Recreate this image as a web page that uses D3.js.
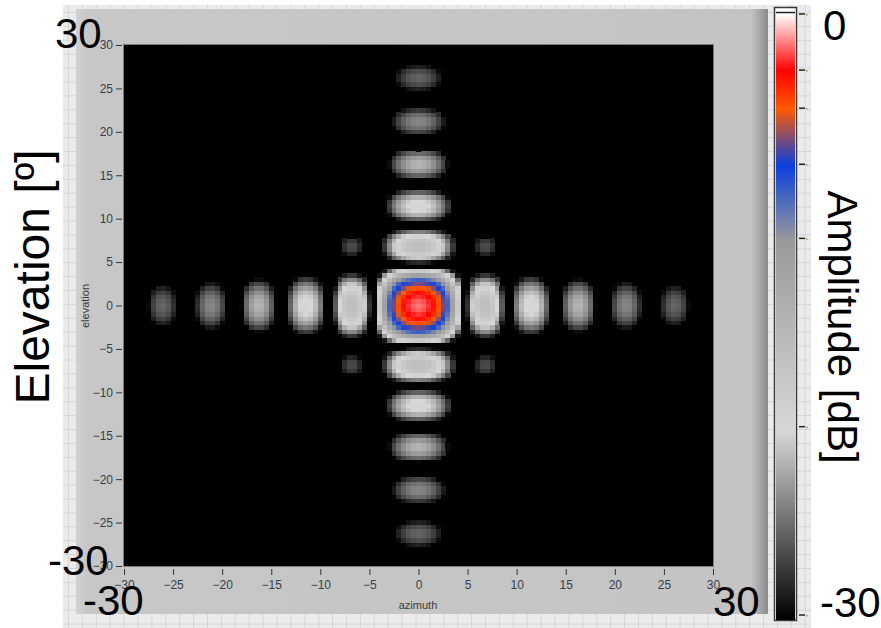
<!DOCTYPE html>
<html>
<head>
<meta charset="utf-8">
<script src="https://cdn.jsdelivr.net/npm/d3@7"></script>
<style>
  html, body { margin: 0; padding: 0; background: #fff; }
  svg { display: block; font-family: "Liberation Sans", Arial, sans-serif; }
</style>
</head>
<body>
<div class="canvas"></div>
<script>
// ---- data ----
const azimuthTicks = [-30, -25, -20, -15, -10, -5, 0, 5, 10, 15, 20, 25, 30];
const elevationTicks = [-30, -25, -20, -15, -10, -5, 0, 5, 10, 15, 20, 25, 30];

// nulls along each principal cut (deg) and the level of the lobe between each pair (dB, rel. to peak)
const azNulls = [-28.6, -23.6, -18.7, -13.9, -9.0, -4.6, 4.6, 9.0, 13.9, 18.7, 23.6, 28.6];
const azLobeDb = [-24.0, -22.5, -20.5, -18.5, -15.0, 0, -15.0, -18.5, -20.5, -22.5, -24.0];
const elNulls = [-28.8, -23.7, -18.7, -13.85, -9.15, -4.6, 4.6, 9.15, 13.85, 18.7, 23.7, 28.8];
const elLobeDb = [-24.0, -22.5, -20.5, -18.5, -15.0, 0, -15.0, -18.5, -20.5, -22.5, -24.0];
const peakDb = -1.5;
// the four small off-axis lobes (between the first nulls of both cuts)
const diagonalLobeDb = -26.5;

// main lobe fall-off vs offset from boresight (deg -> dB)
const mainLobeDeg = [0, 0.5, 1, 1.5, 2, 2.5, 3, 3.5, 4, 4.3, 4.6];
const mainLobeDb = [0, -0.2, -0.7, -1.6, -2.9, -4.7, -7.3, -10.9, -16.7, -23.3, -60];
// side lobe shape vs fraction of the null-to-null interval
const sideLobeT = [0, 0.05, 0.1, 0.2, 0.3, 0.4, 0.5];
const sideLobeDb = [-60, -16, -10.2, -4.6, -1.8, -0.4, 0];

// colour ramp of the legend (dB -> colour)
const rampDb = [0, -2.8, -4.7, -7.5, -11.2, -20.6, -30];
const rampColors = ["#ffffff", "#ff0000", "#ff5a00", "#0a40e0", "#999999", "#d8d8d8", "#000000"];

const gridStep = 0.5;

// ---- drawing ----
const W = 881, H = 628;
const svg = d3.select(".canvas").append("svg")
    .attr("width", W)
    .attr("height", H);

const defs = svg.append("defs");

// panel backdrop with light grid
svg.append("rect")
    .attr("x", 63).attr("y", 5).attr("width", 748).attr("height", 623)
    .attr("fill", "#ebebeb");
const bg = svg.append("g").attr("stroke", "#d6d6d6").attr("stroke-width", 1);
d3.range(68.5, 811, 13.9).forEach(v => {
    bg.append("line").attr("x1", v).attr("x2", v).attr("y1", 5).attr("y2", 628);
});
d3.range(12.5, 628, 13.9).forEach(v => {
    bg.append("line").attr("x1", 63).attr("x2", 811).attr("y1", v).attr("y2", v);
});

const panelGrad = defs.append("linearGradient").attr("id", "panelGrad");
panelGrad.append("stop").attr("offset", 0).attr("stop-color", "#d2d2d2");
panelGrad.append("stop").attr("offset", 0.015).attr("stop-color", "#c7c7c7");
panelGrad.append("stop").attr("offset", 0.975).attr("stop-color", "#c4c4c4");
panelGrad.append("stop").attr("offset", 1).attr("stop-color", "#8c8c8c");

svg.append("rect")
    .attr("x", 76).attr("y", 9).attr("width", 692).attr("height", 605)
    .attr("fill", "url(#panelGrad)");

// plot scales
const x = d3.scaleLinear().domain([-30, 30]).range([124, 713]);
const y = d3.scaleLinear().domain([-30, 30]).range([566, 45]);

svg.append("rect")
    .attr("x", x(-30)).attr("y", y(30))
    .attr("width", x(30) - x(-30)).attr("height", y(-30) - y(30))
    .attr("fill", "#000");

defs.append("clipPath").attr("id", "plotClip")
  .append("rect")
    .attr("x", x(-30)).attr("y", y(30))
    .attr("width", x(30) - x(-30)).attr("height", y(-30) - y(30));

const color = d3.scaleLinear().domain(rampDb).range(rampColors).clamp(true);
const mainShape = d3.scaleLinear().domain(mainLobeDeg).range(mainLobeDb).clamp(true);
const sideShape = d3.scaleLinear().domain(sideLobeT).range(sideLobeDb).clamp(true);

function lobeIndex(v, nulls) {
    const i = d3.bisectRight(nulls, v) - 1;
    return (i < 0 || i >= nulls.length - 1) ? -1 : i;
}
function lobeShape(v, nulls, i, lobes) {
    if (lobes[i] === 0) return mainShape(Math.abs(v));
    const t = (v - nulls[i]) / (nulls[i + 1] - nulls[i]);
    return sideShape(Math.min(t, 1 - t));
}
const mainAz = azLobeDb.indexOf(0), mainEl = elLobeDb.indexOf(0);

function levelAt(az, el) {
    const i = lobeIndex(az, azNulls), j = lobeIndex(el, elNulls);
    if (i < 0 || j < 0) return -30;
    const sa = lobeShape(az, azNulls, i, azLobeDb), se = lobeShape(el, elNulls, j, elLobeDb);
    let db = peakDb + azLobeDb[i] + elLobeDb[j] + sa + se;
    if (Math.abs(i - mainAz) === 1 && Math.abs(j - mainEl) === 1) db = diagonalLobeDb + sa + se;
    return Math.max(-30, db);
}

const cols = d3.range(-30, 30 + 1e-9, gridStep);
const cells = d3.cross(cols, cols, (az, el) => ({ az, el, db: levelAt(az, el) }))
    .filter(d => d.db > -29.9);

const cw = x(gridStep) - x(0), ch = y(0) - y(gridStep);
svg.append("g")
    .attr("clip-path", "url(#plotClip)")
    .attr("shape-rendering", "crispEdges")
  .selectAll("rect")
  .data(cells)
  .join("rect")
    .attr("x", d => x(d.az) - cw / 2)
    .attr("y", d => y(d.el) - ch / 2)
    .attr("width", cw + 0.4)
    .attr("height", ch + 0.4)
    .attr("fill", d => color(d.db));

svg.append("rect")
    .attr("x", x(-30) - 0.5).attr("y", y(30) - 0.5)
    .attr("width", x(30) - x(-30) + 1).attr("height", y(-30) - y(30) + 1)
    .attr("fill", "none").attr("stroke", "#7a7a7a");

// axes
const yAxis = svg.append("g")
    .attr("transform", "translate(122,0)")
    .call(d3.axisLeft(y).tickValues(elevationTicks).tickSize(6).tickPadding(3));
const xAxis = svg.append("g")
    .attr("transform", "translate(0,569)")
    .call(d3.axisBottom(x).tickValues(azimuthTicks).tickSize(6).tickPadding(5));
[xAxis, yAxis].forEach(a => {
    a.select(".domain").remove();
    a.selectAll("line").attr("stroke", "#333");
    a.selectAll("text")
        .attr("fill", "#34404c")
        .style("font-size", "12px")
        .style("font-family", "\"Liberation Sans\", Arial, sans-serif");
});

svg.append("text")
    .attr("transform", "translate(89,306) rotate(-90)")
    .attr("text-anchor", "middle")
    .attr("fill", "#3a3a3a")
    .style("font-size", "11px")
    .text("elevation");
svg.append("text")
    .attr("x", 418).attr("y", 609)
    .attr("text-anchor", "middle")
    .attr("fill", "#3a3a3a")
    .style("font-size", "11px")
    .text("azimuth");

// colour bar
const cb = d3.scaleLinear().domain([0, -30]).range([14, 615]);
const cbGrad = defs.append("linearGradient").attr("id", "cbGrad")
    .attr("x1", 0).attr("y1", 0).attr("x2", 0).attr("y2", 1);
rampDb.forEach((v, i) => {
    cbGrad.append("stop").attr("offset", v / -30).attr("stop-color", rampColors[i]);
});
svg.append("rect")
    .attr("x", 774.5).attr("y", 7.5).attr("width", 22).attr("height", 613)
    .attr("fill", "#fff").attr("stroke", "#3a3a3a").attr("stroke-width", 1.5);
svg.append("rect")
    .attr("x", 776).attr("y", cb(0)).attr("width", 19).attr("height", cb(-30) - cb(0) + 5)
    .attr("fill", "url(#cbGrad)");
svg.append("line")
    .attr("x1", 776).attr("x2", 795).attr("y1", 12.5).attr("y2", 12.5)
    .attr("stroke", "#222").attr("stroke-width", 1.5);

const cbTicks = svg.append("g");
cbTicks.selectAll("line")
  .data(rampDb)
  .join("line")
    .attr("x1", 799).attr("x2", 805)
    .attr("y1", d => cb(d)).attr("y2", d => cb(d))
    .attr("stroke", "#222").attr("stroke-width", 1.5);
cbTicks.selectAll("rect")
  .data(rampDb)
  .join("rect")
    .attr("x", 806).attr("y", d => cb(d))
    .attr("width", 1.5).attr("height", 1.5)
    .attr("fill", "#c8823c");

// large annotation text
const big = [
    { t: "30", x: 55, y: 48 },
    { t: "-30", x: 48, y: 575 },
    { t: "-30", x: 83, y: 615 },
    { t: "30", x: 713, y: 616 },
    { t: "0", x: 823, y: 40 },
    { t: "-30", x: 820, y: 617 }
];
svg.append("g").selectAll("text")
  .data(big)
  .join("text")
    .attr("x", d => d.x).attr("y", d => d.y)
    .attr("fill", "#000")
    .style("font-size", "42px")
    .text(d => d.t);

svg.append("text")
    .attr("transform", "translate(49,277) rotate(-90)")
    .attr("text-anchor", "middle")
    .style("font-size", "48px")
    .text("Elevation [º]");
svg.append("text")
    .attr("transform", "translate(828,327) rotate(90)")
    .attr("text-anchor", "middle")
    .style("font-size", "42px")
    .text("Amplitude [dB]");
</script>
</body>
</html>
